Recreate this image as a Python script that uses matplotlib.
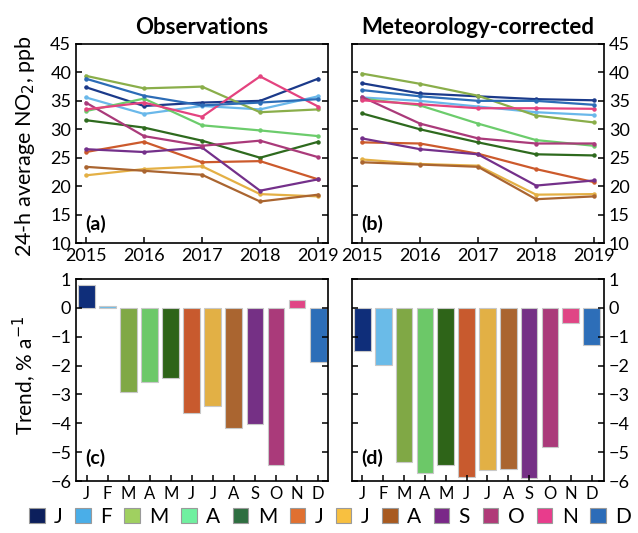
import matplotlib
matplotlib.use("Agg")
import matplotlib.pyplot as plt
from matplotlib.patches import Patch
import numpy as np

plt.rcParams['font.family'] = ['Lato', 'DejaVu Sans']

years = [2015, 2016, 2017, 2018, 2019]
months = ['J', 'F', 'M', 'A', 'M', 'J', 'J', 'A', 'S', 'O', 'N', 'D']

# Observations (panel a), ppb
obs_jan = [37.4, 34.1, 34.7, 35.0, 38.9]
obs_feb = [35.6, 32.7, 34.1, 33.5, 35.8]
obs_mar = [39.4, 37.2, 37.5, 33.0, 33.5]
obs_apr = [33.2, 35.4, 30.7, 29.8, 28.8]
obs_may = [31.6, 30.3, 28.0, 25.0, 27.8]
obs_jun = [26.0, 27.8, 24.2, 24.4, 21.2]
obs_jul = [21.9, 23.0, 23.5, 18.6, 18.2]
obs_aug = [23.4, 22.7, 22.0, 17.3, 18.5]
obs_sep = [26.5, 26.0, 26.8, 19.2, 21.2]
obs_oct = [34.7, 28.8, 27.1, 28.0, 25.1]
obs_nov = [33.5, 34.7, 32.2, 39.3, 34.0]
obs_dec = [38.9, 35.9, 34.2, 34.7, 35.3]

# Meteorology-corrected (panel b), ppb
met_jan = [38.1, 36.3, 35.8, 35.3, 35.1]
met_feb = [35.6, 35.0, 34.0, 33.0, 32.5]
met_mar = [39.8, 38.0, 35.9, 32.4, 31.2]
met_apr = [35.4, 34.2, 31.0, 28.1, 27.1]
met_may = [32.8, 30.0, 27.7, 25.6, 25.4]
met_jun = [27.7, 27.5, 25.7, 23.0, 20.7]
met_jul = [24.7, 23.9, 23.6, 18.5, 18.6]
met_aug = [24.2, 23.8, 23.4, 17.7, 18.2]
met_sep = [28.4, 26.5, 25.6, 20.1, 21.0]
met_oct = [35.7, 31.0, 28.4, 27.5, 27.5]
met_nov = [35.1, 34.4, 33.7, 33.7, 33.6]
met_dec = [36.9, 35.8, 35.0, 35.0, 34.3]

# Trends, % per year
trend_obs = [0.78, 0.07, -2.92, -2.57, -2.43, -3.66, -3.39, -4.15, -4.02, -5.45, 0.27, -1.86]
trend_met = [-1.51, -1.99, -5.35, -5.72, -5.46, -5.85, -5.61, -5.60, -5.90, -4.83, -0.52, -1.28]

obs_series = [obs_jan, obs_feb, obs_mar, obs_apr, obs_may, obs_jun,
              obs_jul, obs_aug, obs_sep, obs_oct, obs_nov, obs_dec]
met_series = [met_jan, met_feb, met_mar, met_apr, met_may, met_jun,
              met_jul, met_aug, met_sep, met_oct, met_nov, met_dec]

line_colors = ['#1b3a8a', '#6ab8ea', '#8aae4a', '#6ccc6c', '#2e6a1e', '#cc5a2c',
               '#e4b045', '#aa6530', '#74308a', '#aa3a7a', '#e4437f', '#2c6cb6']
bar_colors = ['#0f2e7a', '#6abbe8', '#80a845', '#6cc868', '#2e6418', '#c85a2e',
              '#e2b045', '#aa6530', '#753085', '#aa3a7a', '#e04585', '#2d6eb8']
legend_colors = ['#0c1f5c', '#4aaee8', '#a0d060', '#70f0a0', '#2e6e40', '#e07030',
                 '#f8c040', '#a85a20', '#7a2888', '#b03a78', '#e83c8c', '#2c6cb8']

W, H = 638, 533
fig = plt.figure(figsize=(W / 100, H / 100), dpi=100)

def box(l, r, t, b):
    return [l / W, 1 - b / H, (r - l) / W, (b - t) / H]

ax_a = fig.add_axes(box(76, 328, 44, 243))
ax_b = fig.add_axes(box(352, 604, 44, 243))
ax_c = fig.add_axes(box(76, 328, 279, 481))
ax_d = fig.add_axes(box(352, 604, 279, 481))

tick_fs = 13
for ax in (ax_a, ax_b, ax_c, ax_d):
    for s in ax.spines.values():
        s.set_linewidth(1.2)
    ax.tick_params(direction='in', length=4, width=1.1, labelsize=tick_fs,
                   left=True, right=True, top=False, bottom=True)

def draw_lines(ax, series, label):
    for vals, c in zip(series, line_colors):
        ax.plot(years, vals, color=c, lw=1.6, marker='o', ms=2.2)
    ax.set_xlim(2014.83, 2019.17)
    ax.set_ylim(10, 45)
    ax.set_xticks(years)
    ax.set_yticks(range(10, 50, 5))
    ax.text(0.035, 0.05, label, transform=ax.transAxes, fontsize=14,
            fontweight='bold', ha='left', va='bottom')

draw_lines(ax_a, obs_series, '(a)')
draw_lines(ax_b, met_series, '(b)')
ax_b.tick_params(labelleft=False, labelright=True)

x = np.arange(len(months))

def draw_bars(ax, vals, label, xr):
    ax.bar(x, vals, width=0.8, color=bar_colors, edgecolor='#c8c8c8', linewidth=0.8)
    ax.set_xlim(-0.5, xr)
    ax.set_ylim(-6, 1)
    ax.set_xticks(x)
    ax.set_xticklabels(months, fontsize=12)
    ax.set_yticks(range(-6, 2))
    ax.text(0.035, 0.07, label, transform=ax.transAxes, fontsize=14,
            fontweight='bold', ha='left', va='bottom')

draw_bars(ax_c, trend_obs, '(c)', 11.47)
draw_bars(ax_d, trend_met, '(d)', 11.6)
ax_d.tick_params(labelleft=False, labelright=True)

ax_a.set_title('Observations', fontsize=16, fontweight='bold', pad=7)
ax_b.set_title('Meteorology-corrected', fontsize=16, fontweight='bold', pad=7)

fig.text(25 / W, 1 - 146 / H, '24-h average NO$_2$, ppb', rotation=90,
         fontsize=15.5, ha='center', va='center')
fig.text(25 / W, 1 - 375 / H, 'Trend, % a$^{-1}$', rotation=90,
         fontsize=15, ha='center', va='center')

handles = [Patch(facecolor=c, edgecolor='#9a9a9a', linewidth=0.8) for c in legend_colors]
fig.legend(handles, months, loc='center', bbox_to_anchor=(330 / W, 1 - 517 / H),
           ncol=12, frameon=False, fontsize=15, handlelength=0.75, handleheight=0.75,
           handletextpad=0.45, columnspacing=0.6, borderaxespad=0, borderpad=0)

fig.savefig('out.png', dpi=100)
